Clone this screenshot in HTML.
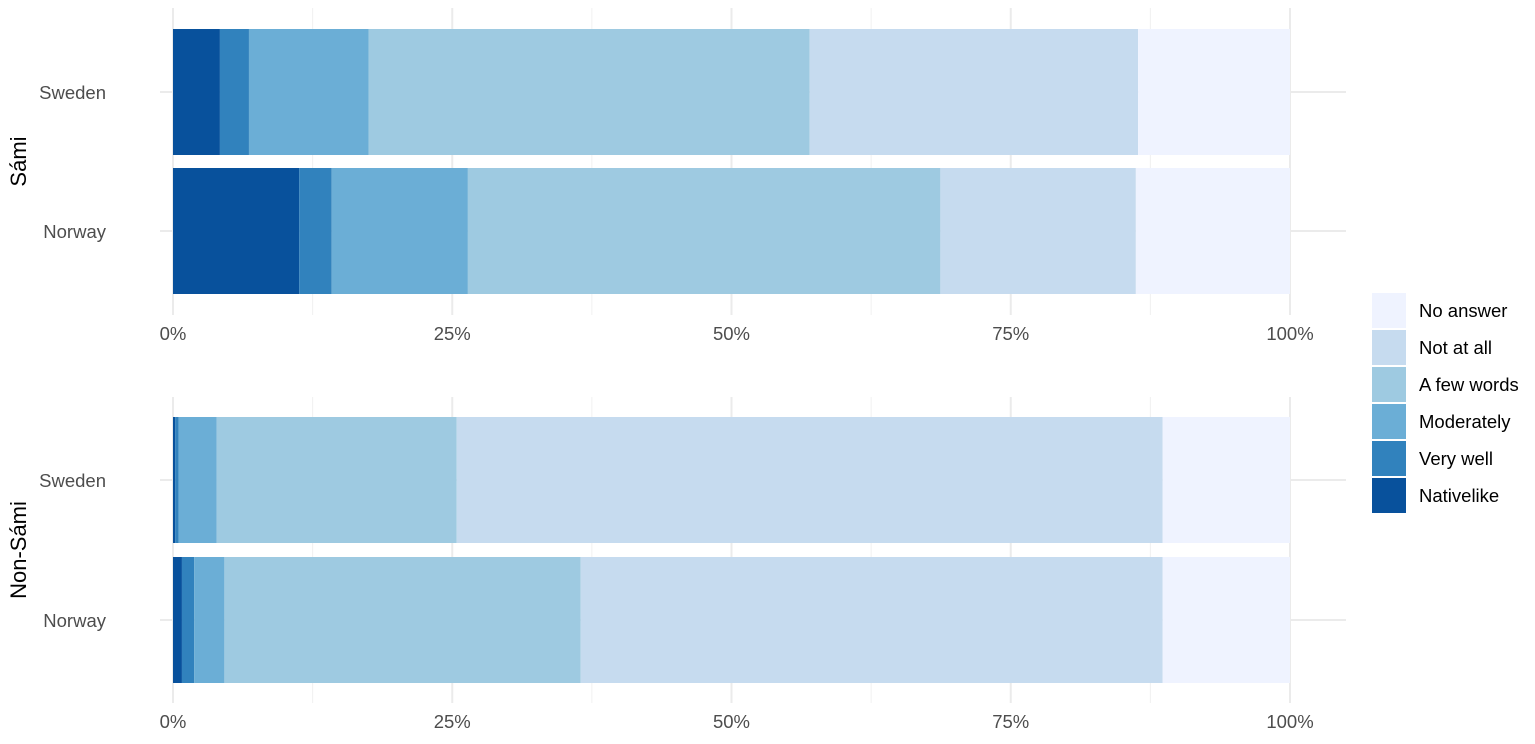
<!DOCTYPE html>
<html><head><meta charset="utf-8"><style>
body{margin:0;background:#fff;font-family:"Liberation Sans",Arial,sans-serif}
svg text{font-family:"Liberation Sans",Arial,sans-serif}
</style></head><body>
<svg id="chart" width="1535" height="739" viewBox="0 0 1535 739" xmlns="http://www.w3.org/2000/svg"></svg>
<script>
const categories = ["Nativelike","Very well","Moderately","A few words","Not at all","No answer"];
const colors = ["#08519c","#3182bd","#6baed6","#9ecae1","#c6dbef","#eff3ff"];
const panels = ["Sámi","Non-Sámi"];
const countries = ["Sweden","Norway"];
const samiSweden = [4.2,2.6,10.7,39.5,29.4,13.6];
const samiNorway = [11.3,2.9,12.2,42.3,17.5,13.8];
const nonSamiSweden = [0.2,0.3,3.4,21.5,63.2,11.4];
const nonSamiNorway = [0.8,1.1,2.7,31.9,52.1,11.4];
const tickValues = [0,25,50,75,100];
const tickLabels = ["0%","25%","50%","75%","100%"];

const svg = document.getElementById('chart');
const NS = 'http://www.w3.org/2000/svg';
function mk(tag, attrs, parent){const e=document.createElementNS(NS,tag);for(const k in attrs)e.setAttribute(k,attrs[k]);(parent||svg).appendChild(e);return e;}
const x0=173, x1=1290;
const xs = v => x0 + (x1-x0)*v/100;
const data = [[samiSweden,samiNorway],[nonSamiSweden,nonSamiNorway]];
const panelTop=[8,397], panelBottom=[315,703];
const rowCenter=[[92,231],[480,620]];
const barH=126;

panels.forEach((p,pi)=>{
  const g=mk('g',{});
  
  
  for(let i=0;i<4;i++){
    const v=12.5+25*i;
    const l=mk('line',{x1:xs(v),x2:xs(v),y1:panelTop[pi],y2:panelBottom[pi],stroke:'#f0f0f0','stroke-width':1},g);
    
    
  }
  tickValues.forEach((v,i)=>{
    const l=mk('line',{x1:xs(v),x2:xs(v),y1:panelTop[pi],y2:panelBottom[pi],stroke:'#ebebeb','stroke-width':2},g);
    
    
    const t=mk('text',{x:xs(v),y:panelBottom[pi]+25,'text-anchor':'middle','font-size':18.5,fill:'#4d4d4d'},g);
    t.textContent=tickLabels[i];
    
    
  });
  countries.forEach((c,ci)=>{
    const cy=rowCenter[pi][ci];
    const hl=mk('line',{x1:160,x2:1346,y1:cy,y2:cy,stroke:'#ebebeb','stroke-width':2},g);
    
    
    const t=mk('text',{x:106,y:cy+7,'text-anchor':'end','font-size':18.5,fill:'#4d4d4d'},g);
    t.textContent=c;
    
    
    let cum=0;
    data[pi][ci].forEach((v,k)=>{
      const r=mk('rect',{x:xs(cum),y:cy-barH/2,width:xs(cum+v)-xs(cum),height:barH,fill:colors[k]},g);
      
      
      cum+=v;
    });
  });
  const my=(rowCenter[pi][0]+rowCenter[pi][1])/2;
  const st=mk('text',{x:0,y:0,'text-anchor':'middle','font-size':22,fill:'#000',transform:`translate(26,${my}) rotate(-90)`},g);
  st.textContent=p;
  
  
});
const lg=mk('g',{});


const legOrder=[5,4,3,2,1,0];
legOrder.forEach((k,i)=>{
  const y=293+i*37;
  const r=mk('rect',{x:1372,y:y,width:34,height:35,fill:colors[k]},lg);
  
  
  const t=mk('text',{x:1419,y:y+24,'font-size':18.5,fill:'#000'},lg);
  t.textContent=categories[k];
  
  
});
</script>
</body></html>
